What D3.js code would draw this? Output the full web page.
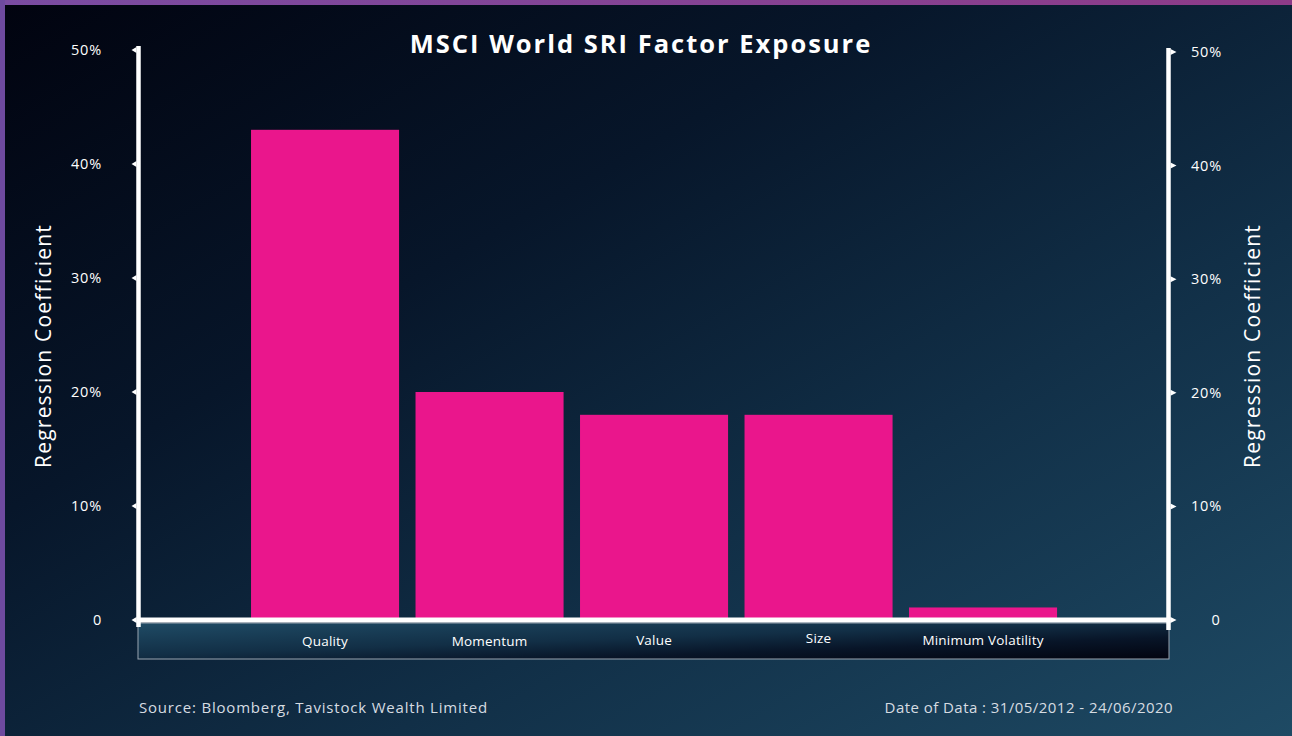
<!DOCTYPE html>
<html>
<head>
<meta charset="utf-8">
<script src="https://cdn.jsdelivr.net/npm/d3@7"></script>
<style>
  html, body { margin: 0; padding: 0; background: #020515; }
  svg { display: block; }
  text { font-family: "Open Sans", "Noto Sans", sans-serif; }
</style>
</head>
<body>
<svg id="chart" width="1292" height="736"></svg>
<script>
const categories = ["Quality", "Momentum", "Value", "Size", "Minimum Volatility"];
const values = [43.0, 20.0, 18.0, 18.0, 1.1];
const yTicks = [0, 10, 20, 30, 40, 50];
const titleText = "MSCI World SRI Factor Exposure";
const yAxisTitle = "Regression Coefficient";
const sourceText = "Source: Bloomberg, Tavistock Wealth Limited";
const dateText = "Date of Data : 31/05/2012 - 24/06/2020";

const W = 1292, H = 736;
const svg = d3.select("#chart");
const defs = svg.append("defs");

// background gradient
const bg = defs.append("linearGradient").attr("id", "bg")
  .attr("x1", "0%").attr("y1", "0%").attr("x2", "100%").attr("y2", "100%");
bg.append("stop").attr("offset", "0%").attr("stop-color", "#01030f");
bg.append("stop").attr("offset", "35%").attr("stop-color", "#07162a");
bg.append("stop").attr("offset", "65%").attr("stop-color", "#112f47");
bg.append("stop").attr("offset", "100%").attr("stop-color", "#1e4a64");

const topG = defs.append("linearGradient").attr("id", "topg")
  .attr("x1", "0%").attr("y1", "0%").attr("x2", "100%").attr("y2", "0%");
topG.append("stop").attr("offset", "0%").attr("stop-color", "#7a4ca2");
topG.append("stop").attr("offset", "100%").attr("stop-color", "#8e3b88");

const bandG = defs.append("linearGradient").attr("id", "bandg")
  .attr("x1", "0%").attr("y1", "0%").attr("x2", "100%").attr("y2", "100%");
bandG.append("stop").attr("offset", "0%").attr("stop-color", "#1f4b65");
bandG.append("stop").attr("offset", "45%").attr("stop-color", "#122f46");
bandG.append("stop").attr("offset", "70%").attr("stop-color", "#081528");
bandG.append("stop").attr("offset", "100%").attr("stop-color", "#02040f");

svg.append("rect").attr("width", W).attr("height", H).attr("fill", "url(#bg)");
svg.append("rect").attr("x", 0).attr("y", 0).attr("width", W).attr("height", 5).attr("fill", "url(#topg)");
svg.append("rect").attr("x", 0).attr("y", 0).attr("width", 5).attr("height", H).attr("fill", "#6e4a9f");

// scales
const yL = d3.scaleLinear().domain([0, 50]).range([620, 50]);
const yR = d3.scaleLinear().domain([0, 50]).range([620, 52]);
const x = d3.scaleBand().domain(categories).range([242.8, 1065.3])
  .paddingInner(0.1).paddingOuter(0.05);

const axL = 138.5, axR = 1168.5, axY = 620;

// category band
svg.append("rect").attr("x", 138).attr("y", 623).attr("width", 1031).attr("height", 36)
  .attr("fill", "url(#bandg)").attr("stroke", "#9aa6b2").attr("stroke-width", 1);

// bars
svg.append("g").selectAll("rect").data(categories).join("rect")
  .attr("x", d => x(d))
  .attr("width", x.bandwidth())
  .attr("y", (d, i) => yL(values[i]))
  .attr("height", (d, i) => yL(0) - yL(values[i]))
  .attr("fill", "#ea168c");

// axes lines
svg.append("line").attr("x1", axL).attr("x2", axL).attr("y1", 46).attr("y2", 627)
  .attr("stroke", "#ffffff").attr("stroke-width", 4.5);
svg.append("line").attr("x1", axR).attr("x2", axR).attr("y1", 48).attr("y2", 630)
  .attr("stroke", "#ffffff").attr("stroke-width", 4.5);
svg.append("line").attr("x1", axL - 2).attr("x2", axR + 2).attr("y1", axY).attr("y2", axY)
  .attr("stroke", "#ffffff").attr("stroke-width", 5);

// tick markers (triangles)
svg.append("g").selectAll("path").data(yTicks).join("path")
  .attr("d", d => `M${axL - 2},${yL(d) - 3} L${axL - 7},${yL(d)} L${axL - 2},${yL(d) + 3} Z`)
  .attr("fill", "#ffffff");
svg.append("g").selectAll("path").data(yTicks).join("path")
  .attr("d", d => `M${axR + 2},${yR(d) - 3} L${axR + 8},${yR(d)} L${axR + 2},${yR(d) + 3} Z`)
  .attr("fill", "#ffffff");

const fmt = d => d === 0 ? "0" : d + "%";

// tick labels
svg.append("g").selectAll("text").data(yTicks).join("text")
  .attr("x", 102).attr("y", d => yL(d)).attr("dy", "0.35em")
  .attr("text-anchor", "end").attr("fill", "#ffffff").attr("font-size", 14.5)
  .attr("letter-spacing", 0.8)
  .text(fmt);
svg.append("g").selectAll("text").data(yTicks).join("text")
  .attr("x", d => d === 0 ? 1216 : 1191).attr("y", d => yR(d)).attr("dy", "0.35em")
  .attr("text-anchor", d => d === 0 ? "middle" : "start").attr("fill", "#ffffff").attr("font-size", 14.5)
  .attr("letter-spacing", 0.8)
  .text(fmt);

// category labels
const labelY = [641, 641, 640, 638, 640];
svg.append("g").selectAll("text").data(categories).join("text")
  .attr("x", d => x(d) + x.bandwidth() / 2)
  .attr("y", (d, i) => labelY[i]).attr("dy", "0.35em")
  .attr("text-anchor", "middle").attr("fill", "#ffffff").attr("font-size", 13.5)
  .attr("letter-spacing", 0.2)
  .text(d => d);

// axis titles
svg.append("text").attr("transform", "translate(51,346) rotate(-90)")
  .attr("text-anchor", "middle").attr("fill", "#ffffff").attr("font-size", 21)
  .attr("letter-spacing", 1.2)
  .text(yAxisTitle);
svg.append("text").attr("transform", "translate(1260,346) rotate(-90)")
  .attr("text-anchor", "middle").attr("fill", "#ffffff").attr("font-size", 21)
  .attr("letter-spacing", 1.2)
  .text(yAxisTitle);

// title
svg.append("text").attr("x", 641).attr("y", 53)
  .attr("text-anchor", "middle").attr("fill", "#ffffff").attr("font-size", 25.5).attr("font-weight", 700)
  .attr("letter-spacing", 2)
  .text(titleText);

// footer
svg.append("text").attr("x", 139).attr("y", 713)
  .attr("fill", "#d6dce2").attr("font-size", 15).attr("letter-spacing", 0.8).text(sourceText);
svg.append("text").attr("x", 1173).attr("y", 713).attr("text-anchor", "end")
  .attr("fill", "#d6dce2").attr("font-size", 15).attr("letter-spacing", 0.45).text(dateText);
</script>
</body>
</html>
